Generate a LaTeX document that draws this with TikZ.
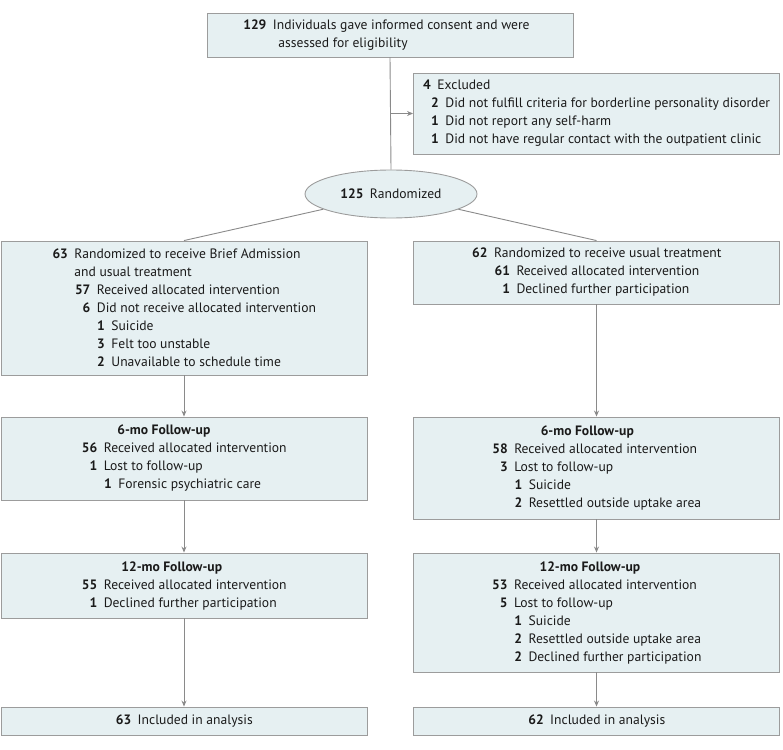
\documentclass[tikz,border=0pt]{standalone}
\usepackage{fontspec}
\setmainfont{PT Sans}
\usetikzlibrary{arrows.meta, positioning, shapes.geometric}
\definecolor{boxfill}{HTML}{E6F0F2}
\definecolor{boxline}{HTML}{9C9C9C}
\definecolor{linegray}{HTML}{8A8A8A}
\definecolor{txt}{HTML}{1A1A1A}

% one numbered row: indent, width of number column, number
\newcommand{\ent}[3]{\hspace*{#1pt}\makebox[#2pt][r]{\bfseries #3}\hspace{6.5pt}}

\begin{document}
\begin{tikzpicture}[x=1pt, y=-1pt, >={Stealth[length=6pt, width=5pt]},
  flowbox/.style={fill=boxfill, draw=boxline, line width=0.9pt, font=\fontsize{13.6}{18}\selectfont,
                  text=txt, align=left, minimum width=366pt, minimum height=#1, inner sep=4pt},
  randnode/.style={ellipse, fill=boxfill, draw=boxline, line width=0.9pt, font=\fontsize{13.6}{18}\selectfont,
                   text=txt, minimum width=172pt, minimum height=48pt, inner sep=0pt},
  conn/.style={linegray, line width=0.9pt},
  arr/.style={conn, ->}
]

\useasboundingbox (0,0) rectangle (783,749);

% Enrollment
\node[flowbox=44pt] (consent) at (390,35)
  {\ent{0}{16}{129}Individuals gave informed consent and were\\
   \hspace*{28pt}assessed for eligibility};

\node[flowbox=81pt] (excluded) at (596.5,113.5)
  {\ent{0}{8}{4}Excluded\\
   \ent{8}{8}{2}Did not fulfill criteria for borderline personality disorder\\
   \ent{8}{8}{1}Did not report any self-harm\\
   \ent{8}{8}{1}Did not have regular contact with the outpatient clinic};

\node[randnode] (rand) at (391,194) {\ent{0}{23}{125}Randomized};

\draw[conn] (consent.south) -- (rand.north);
\draw[arr] (consent.south |- excluded.west) -- (excluded.west);

% Allocation
\node[flowbox=134pt] (balloc) at (184,308)
  {\ent{0}{16}{63}Randomized to receive Brief Admission\\
   \hspace*{22.5pt}and usual treatment\\
   \ent{22.5}{16}{57}Received allocated intervention\\
   \ent{22.5}{16}{6}Did not receive allocated intervention\\
   \ent{45}{8}{1}Suicide\\
   \ent{45}{8}{3}Felt too unstable\\
   \ent{45}{8}{2}Unavailable to schedule time};

\node[flowbox=63pt] (ualloc) at (596.5,272.5)
  {\ent{0}{16}{62}Randomized to receive usual treatment\\
   \ent{22.5}{16}{61}Received allocated intervention\\
   \ent{22.5}{16}{1}Declined further participation};

\draw[conn] (rand) -- (balloc.north);
\draw[conn] (rand) -- (ualloc.north);

% 6-mo follow-up
\node[flowbox=83pt] (bsix) at (184,458.5)
  {\hspace*{36pt}\textbf{6-mo Follow-up}\\
   \ent{0}{16}{56}Received allocated intervention\\
   \ent{0}{16}{1}Lost to follow-up\\
   \ent{22.5}{8}{1}Forensic psychiatric care};

\node[flowbox=102pt] (usix) at (596.5,468)
  {\hspace*{49pt}\textbf{6-mo Follow-up}\\
   \ent{0}{16}{58}Received allocated intervention\\
   \ent{0}{16}{3}Lost to follow-up\\
   \ent{22.5}{8}{1}Suicide\\
   \ent{22.5}{8}{2}Resettled outside uptake area};

\draw[arr] (balloc.south) -- (bsix.north);
\draw[arr] (ualloc.south) -- (usix.north);

% 12-mo follow-up
\node[flowbox=65pt] (btwelve) at (184,585.5)
  {\hspace*{40pt}\textbf{12-mo Follow-up}\\
   \ent{0}{16}{55}Received allocated intervention\\
   \ent{0}{16}{1}Declined further participation};

\node[flowbox=119pt] (utwelve) at (596.5,612.5)
  {\hspace*{48pt}\textbf{12-mo Follow-up}\\
   \ent{0}{16}{53}Received allocated intervention\\
   \ent{0}{16}{5}Lost to follow-up\\
   \ent{22.5}{8}{1}Suicide\\
   \ent{22.5}{8}{2}Resettled outside uptake area\\
   \ent{22.5}{8}{2}Declined further participation};

\draw[arr] (bsix.south) -- (btwelve.north);
\draw[arr] (usix.south) -- (utwelve.north);

% Analysis
\node[flowbox=28pt] (banal) at (184,721) {\ent{0}{16}{63}Included in analysis};
\node[flowbox=28pt] (uanal) at (596.5,721) {\ent{0}{16}{62}Included in analysis};

\draw[arr] (btwelve.south) -- (banal.north);
\draw[arr] (utwelve.south) -- (uanal.north);

\end{tikzpicture}
\end{document}
